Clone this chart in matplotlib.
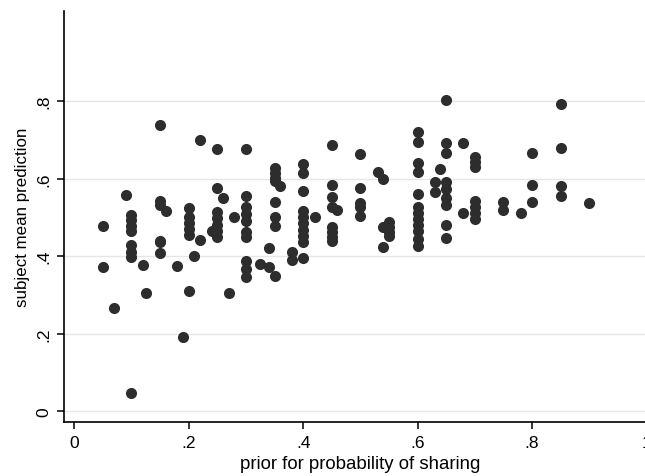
import matplotlib
matplotlib.use("Agg")
import matplotlib.pyplot as plt

# prior for probability of sharing (x) and subject mean prediction (y)
prior = [0.05, 0.05, 0.07, 0.09,
         0.10, 0.10, 0.10, 0.10, 0.10, 0.10, 0.10, 0.10,
         0.12, 0.125,
         0.15, 0.15, 0.15, 0.15, 0.15, 0.15, 0.16,
         0.18, 0.19,
         0.20, 0.20, 0.20, 0.20, 0.20, 0.20, 0.21, 0.22, 0.22, 0.24,
         0.25, 0.25, 0.25, 0.25, 0.25, 0.25, 0.25, 0.26, 0.27, 0.28,
         0.30, 0.30, 0.30, 0.30, 0.30, 0.30, 0.30, 0.30, 0.30, 0.30,
         0.325, 0.34, 0.34,
         0.35, 0.35, 0.35, 0.35, 0.35, 0.35, 0.35, 0.35, 0.36,
         0.38, 0.38,
         0.40, 0.40, 0.40, 0.40, 0.40, 0.40, 0.40, 0.40, 0.40, 0.40, 0.42,
         0.45, 0.45, 0.45, 0.45, 0.45, 0.45, 0.45, 0.45, 0.46,
         0.50, 0.50, 0.50, 0.50, 0.50,
         0.53, 0.54, 0.54, 0.54, 0.55, 0.55, 0.55, 0.55,
         0.60, 0.60, 0.60, 0.60, 0.60, 0.60, 0.60, 0.60, 0.60, 0.60, 0.60, 0.60,
         0.63, 0.63, 0.64,
         0.65, 0.65, 0.65, 0.65, 0.65, 0.65, 0.65, 0.65, 0.65,
         0.68, 0.68,
         0.70, 0.70, 0.70, 0.70, 0.70, 0.70, 0.70,
         0.75, 0.75, 0.78, 0.80, 0.80, 0.80,
         0.85, 0.85, 0.85, 0.85, 0.90]
prediction = [0.477, 0.373, 0.265, 0.557,
              0.505, 0.492, 0.478, 0.465, 0.429, 0.41, 0.398, 0.048,
              0.377, 0.306,
              0.738, 0.543, 0.532, 0.44, 0.435, 0.408, 0.517,
              0.375, 0.19,
              0.523, 0.50, 0.485, 0.47, 0.455, 0.31, 0.40, 0.70, 0.441, 0.465,
              0.676, 0.575, 0.513, 0.497, 0.48, 0.465, 0.45, 0.55, 0.306, 0.50,
              0.676, 0.555, 0.526, 0.508, 0.491, 0.462, 0.45, 0.388, 0.366, 0.347,
              0.379, 0.42, 0.371,
              0.627, 0.614, 0.601, 0.594, 0.54, 0.502, 0.477, 0.349, 0.58,
              0.41, 0.39,
              0.637, 0.613, 0.567, 0.517, 0.50, 0.484, 0.468, 0.452, 0.435, 0.394, 0.50,
              0.686, 0.583, 0.553, 0.526, 0.474, 0.462, 0.45, 0.44, 0.52,
              0.663, 0.575, 0.537, 0.527, 0.504,
              0.616, 0.599, 0.474, 0.424, 0.487, 0.475, 0.463, 0.452,
              0.721, 0.695, 0.639, 0.616, 0.56, 0.526, 0.51, 0.495, 0.48, 0.465, 0.444, 0.425,
              0.592, 0.566, 0.625,
              0.803, 0.692, 0.667, 0.59, 0.573, 0.551, 0.532, 0.48, 0.446,
              0.691, 0.512,
              0.655, 0.642, 0.629, 0.543, 0.527, 0.511, 0.495,
              0.539, 0.52, 0.511, 0.666, 0.583, 0.54,
              0.792, 0.678, 0.581, 0.556, 0.536]

x_ticks = [0, 0.2, 0.4, 0.6, 0.8, 1]
x_labels = ["0", ".2", ".4", ".6", ".8", "1"]
y_ticks = [0, 0.2, 0.4, 0.6, 0.8]
y_labels = ["0", ".2", ".4", ".6", ".8"]

plt.rcParams["font.family"] = ["Liberation Sans", "DejaVu Sans"]

fig = plt.figure(figsize=(6.45, 4.77), dpi=100)
# axes run past the right edge of the picture, as in the original
ax = fig.add_axes([0.0992, 0.1132, 0.919, 0.8616])

ax.scatter(prior, prediction, s=64, color="#2d2d2d", linewidths=0, zorder=3)

ax.set_xlim(-0.018, 1.018)
ax.set_ylim(-0.028, 1.032)
ax.set_xticks(x_ticks)
ax.set_xticklabels(x_labels)
ax.set_yticks(y_ticks)
ax.set_yticklabels(y_labels, rotation=90, va="center")

ax.grid(axis="y", color="#e6e6e6", linewidth=1.0)
ax.set_axisbelow(True)
for side in ["top", "right"]:
    ax.spines[side].set_visible(False)
for side in ["left", "bottom"]:
    ax.spines[side].set_linewidth(1.2)

ax.tick_params(direction="out", length=5, width=1.1, labelsize=12.5, pad=4)
ax.set_xlabel("prior for probability of sharing", fontsize=13.4, labelpad=4)
ax.set_ylabel("subject mean prediction", fontsize=12.2, labelpad=5)

fig.savefig("out.png", dpi=100)
